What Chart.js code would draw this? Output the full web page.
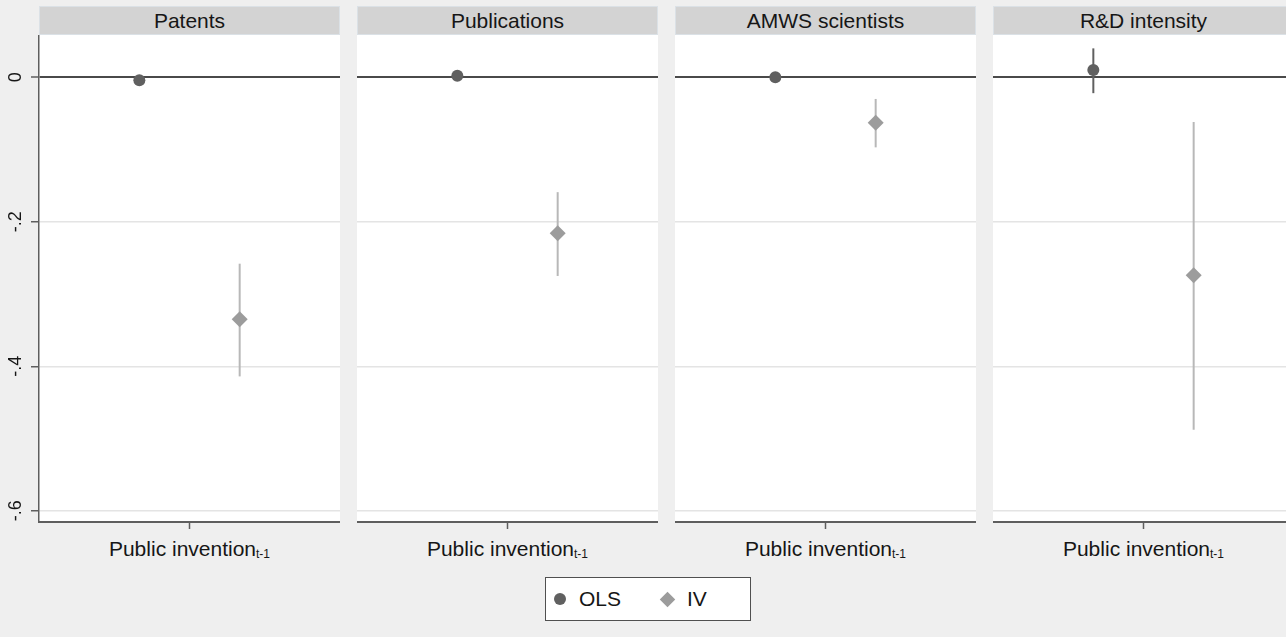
<!DOCTYPE html>
<html>
<head>
<meta charset="utf-8">
<script src="https://cdn.jsdelivr.net/npm/chart.js@4.4.1/dist/chart.umd.min.js"></script>
<style>
  html, body { margin: 0; padding: 0; }
  body {
    width: 1286px; height: 637px; background: #efefef; position: relative; overflow: hidden;
    font-family: "Liberation Sans", Arial, sans-serif; color: #161616;
  }
  .title {
    position: absolute; top: 6px; height: 29px; width: 301px; box-sizing: border-box;
    background: #d3d3d3; border: 1px solid #dbe1e6; text-align: center;
    font-size: 21px; line-height: 27px;
  }
  .plot { position: absolute; top: 35px; height: 500px; }
  .xlab {
    position: absolute; top: 535px; width: 301px; text-align: center;
    font-size: 21px; line-height: 28px; white-space: nowrap;
  }
  .xlab .sub { font-size: 12px; position: relative; top: 2px; }
  .legend {
    position: absolute; left: 545px; top: 577px; width: 206px; height: 44px; box-sizing: border-box;
    background: #fff; border: 1.5px solid #505050;
  }
  .legend .dot { position: absolute; left: 8px; top: 15px; width: 12px; height: 12px; border-radius: 50%; background: #606060; }
  .legend .dia { position: absolute; left: 116px; top: 15.5px; width: 11px; height: 11px; background: #9c9c9c; transform: rotate(45deg); }
  .legend .txt { position: absolute; top: 0; font-size: 21px; line-height: 41px; }
</style>
</head>
<body>
<div class="legend">
  <span class="dot"></span><span class="txt" style="left:33px">OLS</span>
  <span class="dia"></span><span class="txt" style="left:141px">IV</span>
</div>
<script>
// Outcome panels and estimated coefficients with confidence intervals
const panelTitles = ['Patents', 'Publications', 'AMWS scientists', 'R&D intensity'];
const olsCoef = [-0.004, 0.002, 0.000, 0.010];
const olsLow  = [-0.009, -0.001, -0.002, -0.022];
const olsHigh = [0.001, 0.005, 0.002, 0.040];
const ivCoef  = [-0.335, -0.216, -0.063, -0.274];
const ivLow   = [-0.414, -0.275, -0.097, -0.488];
const ivHigh  = [-0.258, -0.159, -0.030, -0.062];
const yTicks = [0, -0.2, -0.4, -0.6];
const yTickLabels = ['0', '-.2', '-.4', '-.6'];
const xLabel = 'Public invention';
const xLabelSub = 't-1';

const OLS_COLOR = '#606060';
const IV_COLOR = '#9c9c9c';
const IV_CI_COLOR = '#b8b8b8';
const AXIS_COLOR = '#5e5e5e';
const OLS_X = -0.5, IV_X = 0.5;
const Y_MIN = -0.6155, Y_MAX = 0.0585;
const panelLeft = [39, 357, 675, 993];

// white plotting region behind the marks
const plotBg = {
  id: 'plotBg',
  beforeDraw(chart) {
    const { ctx, chartArea: a } = chart;
    ctx.save();
    ctx.fillStyle = '#ffffff';
    ctx.fillRect(a.left, a.top, a.right - a.left, a.bottom - a.top);
    ctx.restore();
  }
};

// vertical tick labels on the shared y axis
const yLabels = {
  id: 'yLabels',
  afterDraw(chart) {
    const { ctx } = chart;
    const s = chart.scales.y;
    ctx.save();
    ctx.font = '18px "Liberation Sans", Arial, sans-serif';
    ctx.fillStyle = '#161616';
    ctx.textAlign = 'center';
    ctx.textBaseline = 'middle';
    yTicks.forEach((v, k) => {
      const py = s.getPixelForValue(v);
      ctx.save();
      ctx.translate(16, py);
      ctx.rotate(-Math.PI / 2);
      ctx.fillText(yTickLabels[k], 0, 0);
      ctx.restore();
    });
    ctx.restore();
  }
};

function makePanel(i) {
  const first = i === 0;
  const left = panelLeft[i];

  const title = document.createElement('div');
  title.className = 'title';
  title.style.left = left + 'px';
  title.textContent = panelTitles[i];
  document.body.appendChild(title);

  const lab = document.createElement('div');
  lab.className = 'xlab';
  lab.style.left = left + 'px';
  lab.innerHTML = xLabel + '<span class="sub">' + xLabelSub + '</span>';
  document.body.appendChild(lab);

  const canvas = document.createElement('canvas');
  const cw = first ? left + 301 : 301;
  canvas.className = 'plot';
  canvas.width = cw; canvas.height = 500;
  canvas.style.width = cw + 'px';
  canvas.style.left = (first ? 0 : left) + 'px';
  document.body.appendChild(canvas);

  new Chart(canvas.getContext('2d'), {
    type: 'scatter',
    data: {
      datasets: [
        { label: 'OLS', data: [{ x: OLS_X, y: olsCoef[i] }], pointStyle: 'circle', pointRadius: 6,
          backgroundColor: OLS_COLOR, borderColor: OLS_COLOR, borderWidth: 0, order: 1, clip: false },
        { label: 'IV', data: [{ x: IV_X, y: ivCoef[i] }], pointStyle: 'rectRot', pointRadius: 8,
          backgroundColor: IV_COLOR, borderColor: IV_COLOR, borderWidth: 0, order: 2, clip: false },
        { type: 'line', label: 'OLS CI', data: [{ x: OLS_X, y: olsLow[i] }, { x: OLS_X, y: olsHigh[i] }],
          borderColor: OLS_COLOR, borderWidth: 2, pointRadius: 0, order: 3, clip: false },
        { type: 'line', label: 'IV CI', data: [{ x: IV_X, y: ivLow[i] }, { x: IV_X, y: ivHigh[i] }],
          borderColor: IV_CI_COLOR, borderWidth: 2, pointRadius: 0, order: 4, clip: false }
      ]
    },
    options: {
      responsive: false, animation: false, maintainAspectRatio: false,
      layout: { padding: 0, autoPadding: false },
      plugins: { legend: { display: false }, tooltip: { enabled: false } },
      scales: {
        x: {
          type: 'linear', min: -1.5, max: 1.5,
          afterBuildTicks: s => { s.ticks = [{ value: 0 }]; },
          ticks: { display: false },
          grid: { drawOnChartArea: false, drawTicks: true, tickLength: 7, tickColor: AXIS_COLOR, tickWidth: 1.5 },
          border: { color: AXIS_COLOR, width: 2 },
          afterFit: s => { s.height = 13; s.paddingLeft = 0; s.paddingRight = 0; }
        },
        y: {
          type: 'linear', min: Y_MIN, max: Y_MAX,
          afterBuildTicks: s => { s.ticks = yTicks.map(v => ({ value: v })); },
          ticks: { display: false },
          grid: {
            color: c => (c.tick && c.tick.value === 0) ? '#4a4a4a' : '#e4e4e4',
            lineWidth: c => (c.tick && c.tick.value === 0) ? 2 : 1.5,
            drawTicks: first, tickLength: 8, tickColor: AXIS_COLOR, tickWidth: 1.5
          },
          border: { display: first, color: AXIS_COLOR, width: 1.5 },
          afterFit: s => { s.width = first ? left : 0; s.paddingTop = 0; s.paddingBottom = 0; }
        }
      }
    },
    plugins: first ? [plotBg, yLabels] : [plotBg]
  });
}

panelTitles.forEach((t, i) => makePanel(i));
</script>
</body>
</html>
